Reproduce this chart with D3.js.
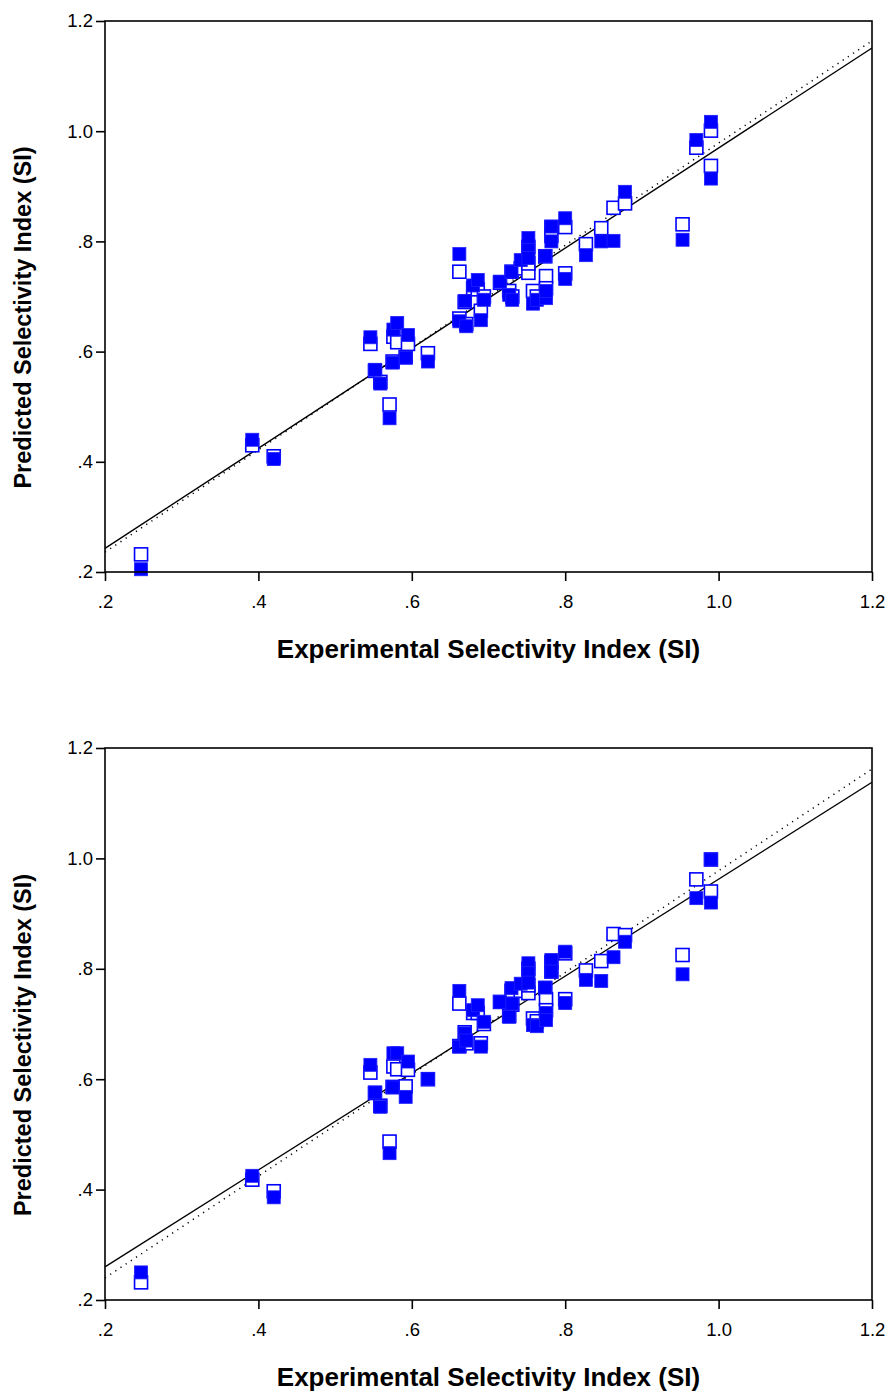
<!DOCTYPE html>
<html>
<head>
<meta charset="utf-8">
<script src="https://cdn.jsdelivr.net/npm/d3@7"></script>
<style>
  body { margin: 0; background: #fff; }
  svg text { font-family: Arial, "Liberation Sans", sans-serif; }
</style>
</head>
<body>
<div class="chart"></div>
<script>
// experimental SI (shared by both panels)
var expSI = [0.247, 0.392, 0.420, 0.546, 0.552, 0.559, 0.571, 0.575, 0.576, 0.581,
             0.592, 0.595, 0.621, 0.662, 0.662, 0.669, 0.671, 0.680, 0.686, 0.690,
             0.694, 0.715, 0.727, 0.730, 0.731, 0.742, 0.752, 0.752, 0.752, 0.758,
             0.763, 0.774, 0.775, 0.775, 0.782, 0.782, 0.800, 0.800, 0.827, 0.847,
             0.863, 0.878, 0.953, 0.971, 0.990, 0.990];

// top panel predicted values
var topOpen   = [0.232, 0.430, 0.410, 0.614, 0.565, 0.545, 0.504, 0.582, 0.627, 0.617,
                 0.590, 0.614, 0.597, 0.745, 0.660, 0.690, 0.650, 0.715, 0.713, 0.674,
                 0.700, 0.725, 0.710, 0.745, 0.700, 0.751, 0.790, 0.743, 0.760, 0.710,
                 0.700, 0.773, 0.737, 0.715, 0.826, 0.810, 0.826, 0.742, 0.795, 0.824,
                 0.861, 0.869, 0.831, 0.970, 1.001, 0.937];
var topFilled = [0.205, 0.440, 0.405, 0.626, 0.567, 0.542, 0.479, 0.580, 0.640, 0.652,
                 0.589, 0.630, 0.582, 0.777, 0.655, 0.692, 0.646, 0.720, 0.730, 0.657,
                 0.694, 0.727, 0.703, 0.745, 0.694, 0.766, 0.806, 0.784, 0.770, 0.687,
                 0.694, 0.773, 0.697, 0.710, 0.827, 0.800, 0.842, 0.732, 0.775, 0.800,
                 0.801, 0.890, 0.803, 0.984, 1.017, 0.914];

// bottom panel predicted values
var botOpen   = [0.232, 0.418, 0.397, 0.612, 0.575, 0.552, 0.487, 0.586, 0.623, 0.618,
                 0.587, 0.617, 0.600, 0.737, 0.660, 0.685, 0.665, 0.720, 0.720, 0.665,
                 0.700, 0.740, 0.715, 0.760, 0.735, 0.760, 0.800, 0.756, 0.770, 0.710,
                 0.705, 0.765, 0.745, 0.725, 0.812, 0.795, 0.828, 0.745, 0.797, 0.814,
                 0.863, 0.861, 0.825, 0.962, 0.998, 0.940];
var botFilled = [0.250, 0.425, 0.386, 0.626, 0.576, 0.550, 0.466, 0.585, 0.647, 0.647,
                 0.568, 0.632, 0.600, 0.760, 0.659, 0.683, 0.670, 0.725, 0.734, 0.659,
                 0.704, 0.740, 0.713, 0.765, 0.737, 0.773, 0.810, 0.792, 0.775, 0.698,
                 0.696, 0.766, 0.720, 0.707, 0.816, 0.795, 0.831, 0.738, 0.780, 0.778,
                 0.821, 0.849, 0.790, 0.928, 0.998, 0.920];

// fit lines, endpoints at x = 0.2 and 1.2
var topSolid  = [[0.2, 0.243], [1.2, 1.151]];
var topDotted = [[0.2, 0.236], [1.2, 1.164]];
var botSolid  = [[0.2, 0.260], [1.2, 1.138]];
var botDotted = [[0.2, 0.240], [1.2, 1.162]];

var tickVals = [0.2, 0.4, 0.6, 0.8, 1.0, 1.2];
var tickLbls = [".2", ".4", ".6", ".8", "1.0", "1.2"];

var W = 890, H = 1392;
var svg = d3.select(".chart").append("svg")
            .attr("width", W)
            .attr("height", H);

var x = d3.scaleLinear().domain([0.2, 1.2]).range([105, 872]);

function fmt(d) { return tickLbls[tickVals.indexOf(d)]; }

function make_panel(y0, y1, open, filled, solid, dotted) {
    var y = d3.scaleLinear().domain([0.2, 1.2]).range([y0, y1]);
    var g = svg.append("g");
    var sz = 13;

    // fit lines
    var line = d3.line().x(function(d){ return x(d[0]); }).y(function(d){ return y(d[1]); });
    g.append("path").datum(dotted)
     .attr("d", line).attr("fill", "none")
     .attr("stroke", "#000").attr("stroke-width", 1.5)
     .attr("stroke-dasharray", "1.2,5");
    g.append("path").datum(solid)
     .attr("d", line).attr("fill", "none")
     .attr("stroke", "#000").attr("stroke-width", 1.4);

    // open squares first, filled ones on top
    g.selectAll(".open").data(expSI).enter().append("rect")
     .attr("class", "open")
     .attr("x", function(d){ return x(d) - sz/2; })
     .attr("y", function(d,i){ return y(open[i]) - sz/2; })
     .attr("width", sz).attr("height", sz)
     .attr("fill", "#fff").attr("stroke", "#0000ff").attr("stroke-width", 1.6);

    g.selectAll(".filled").data(expSI).enter().append("rect")
     .attr("class", "filled")
     .attr("x", function(d){ return x(d) - sz/2; })
     .attr("y", function(d,i){ return y(filled[i]) - sz/2; })
     .attr("width", sz).attr("height", sz)
     .attr("fill", "#0000ff").attr("stroke", "#2020ff").attr("stroke-width", 0.8);

    // frame
    g.append("rect")
     .attr("x", x(0.2)).attr("y", y(1.2))
     .attr("width", x(1.2) - x(0.2)).attr("height", y(0.2) - y(1.2))
     .attr("fill", "none").attr("stroke", "#000").attr("stroke-width", 1.6);

    var xa = g.append("g")
              .attr("transform", "translate(0," + y(0.2) + ")")
              .call(d3.axisBottom(x).tickValues(tickVals).tickFormat(fmt).tickSize(9).tickPadding(14));
    var ya = g.append("g")
              .attr("transform", "translate(" + x(0.2) + ",0)")
              .call(d3.axisLeft(y).tickValues(tickVals).tickFormat(fmt).tickSize(9).tickPadding(3));
    [xa, ya].forEach(function(a){
        a.select(".domain").remove();
        a.selectAll("line").attr("stroke", "#000").attr("stroke-width", 1.6);
        a.selectAll("text").attr("font-size", 18.5).attr("fill", "#000")
         .style("font-family", "Arial, 'Liberation Sans', sans-serif");
    });

    g.append("text")
     .attr("x", (x(0.2) + x(1.2)) / 2)
     .attr("y", y(0.2) + 86)
     .attr("text-anchor", "middle")
     .attr("font-size", 26).attr("font-weight", "bold")
     .text("Experimental Selectivity Index (SI)");

    g.append("text")
     .attr("transform", "translate(31," + ((y(0.2) + y(1.2)) / 2 + 21) + ") rotate(-90)")
     .attr("text-anchor", "middle")
     .attr("font-size", 23.5).attr("font-weight", "bold")
     .text("Predicted Selectivity Index (SI)");
}

make_panel(572, 21, topOpen, topFilled, topSolid, topDotted);
make_panel(1300, 748, botOpen, botFilled, botSolid, botDotted);
</script>
</body>
</html>
